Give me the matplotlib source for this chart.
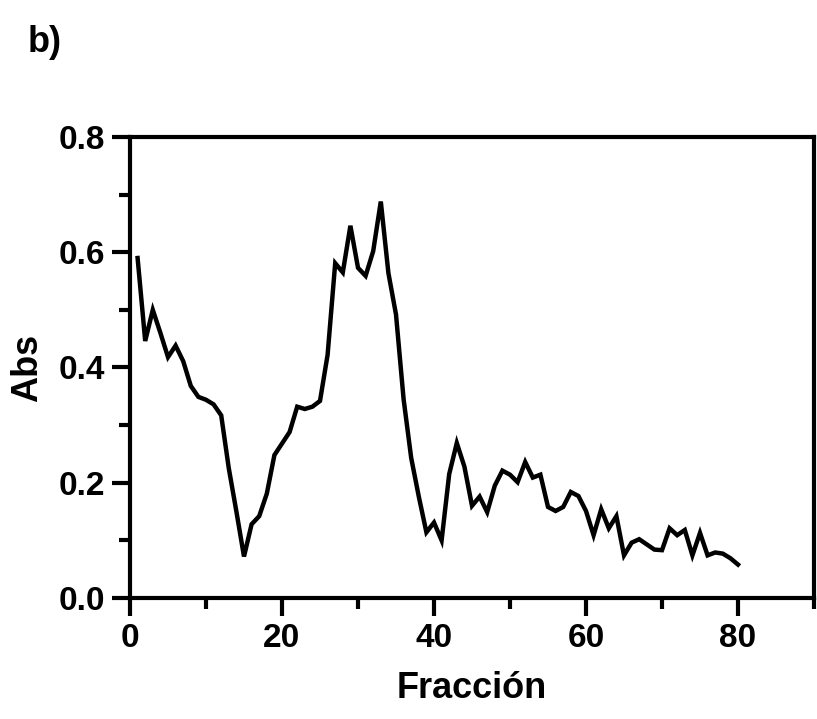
import matplotlib
matplotlib.use("Agg")
import matplotlib.pyplot as plt
from matplotlib.ticker import MultipleLocator, FormatStrFormatter

# Absorbance of each collected fraction
fraccion = list(range(1, 81))
absorbancia = [
    0.590, 0.446, 0.500, 0.460, 0.418, 0.438, 0.411, 0.368, 0.349, 0.344,
    0.336, 0.317, 0.225, 0.150, 0.072, 0.128, 0.142, 0.181, 0.248, 0.268,
    0.288, 0.332, 0.328, 0.332, 0.342, 0.422, 0.581, 0.565, 0.646, 0.573,
    0.559, 0.602, 0.688, 0.564, 0.492, 0.345, 0.243, 0.176, 0.114, 0.131,
    0.100, 0.215, 0.269, 0.228, 0.160, 0.176, 0.149, 0.195, 0.221, 0.214,
    0.201, 0.236, 0.209, 0.214, 0.158, 0.151, 0.158, 0.184, 0.177, 0.151,
    0.109, 0.154, 0.121, 0.142, 0.074, 0.096, 0.102, 0.093, 0.084, 0.083,
    0.121, 0.109, 0.118, 0.074, 0.113, 0.074, 0.079, 0.077, 0.069, 0.058,
]

plt.rcParams['font.family'] = ['Liberation Sans', 'DejaVu Sans']
plt.rcParams['font.weight'] = 'bold'

fig = plt.figure(figsize=(8.17, 7.19), dpi=100)
ax = fig.add_axes([130 / 817, 1 - 598 / 719, (814 - 130) / 817, (598 - 137) / 719])

ax.plot(fraccion, absorbancia, color='black', linewidth=3.2, solid_joinstyle='miter')

ax.set_xlim(0, 90)
ax.set_ylim(0, 0.8)

ax.xaxis.set_major_locator(MultipleLocator(20))
ax.xaxis.set_minor_locator(MultipleLocator(10))
ax.yaxis.set_major_locator(MultipleLocator(0.2))
ax.yaxis.set_minor_locator(MultipleLocator(0.1))
ax.yaxis.set_major_formatter(FormatStrFormatter('%.1f'))

for side in ax.spines.values():
    side.set_linewidth(3.0)

ax.tick_params(which='major', direction='out', length=13, width=3.0,
               labelsize=24, pad=5, top=False, right=False)
ax.tick_params(which='minor', direction='out', length=8, width=3.0,
               top=False, right=False)
for lab in ax.get_xticklabels() + ax.get_yticklabels():
    lab.set_fontweight('bold')

ax.set_xlabel('Fracción', fontsize=26, fontweight='bold', labelpad=12)
ax.set_ylabel('Abs', fontsize=26, fontweight='bold', labelpad=10)

fig.text(28 / 817, 1 - 52 / 719, 'b)', fontsize=26, fontweight='bold',
         ha='left', va='baseline')

fig.savefig('out.png', dpi=100)
